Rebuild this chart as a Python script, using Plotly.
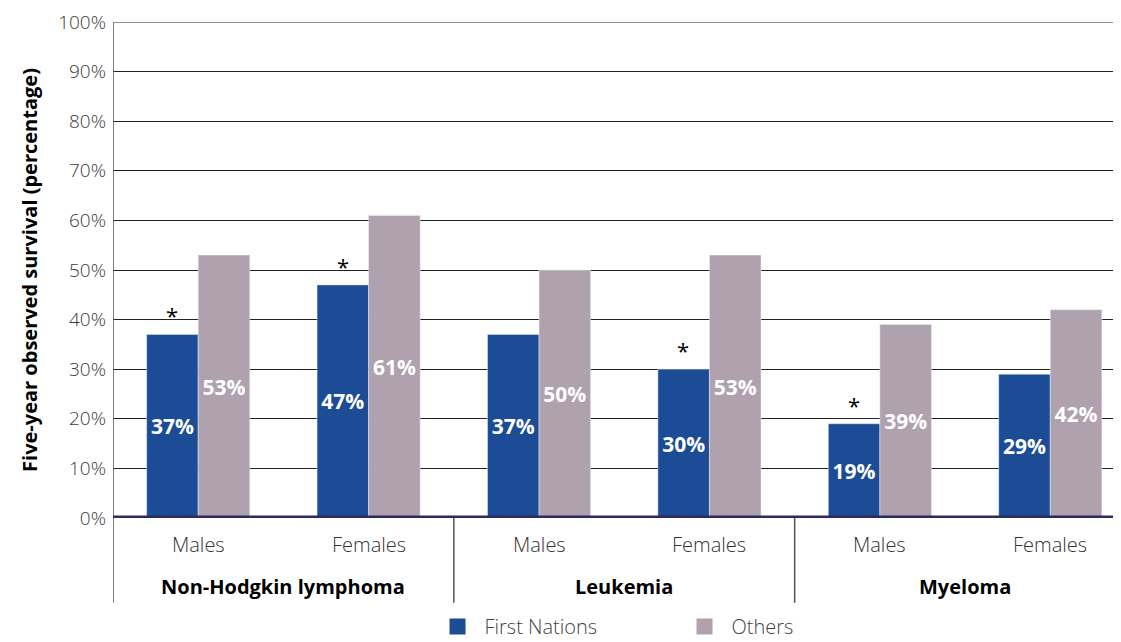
import plotly.graph_objects as go

# data
sexes = ["Males", "Females", "Males", "Females", "Males", "Females"]
cancers = ["Non-Hodgkin lymphoma", "Leukemia", "Myeloma"]
first_nations = [37, 47, 37, 30, 19, 29]
others = [53, 61, 50, 53, 39, 42]
significant = [True, True, False, True, True, False]
y_ticks = [0, 10, 20, 30, 40, 50, 60, 70, 80, 90, 100]

BLUE = "#1c4c96"
GREY = "#afa1ae"
NAVY = "#2d2a5f"
FONT = "Open Sans"

xs = list(range(len(sexes)))

fig = go.Figure()
fig.add_trace(go.Bar(
    x=xs, y=first_nations, name="First Nations", marker_color=BLUE,
    showlegend=False,
    text=[f"{v}%" for v in first_nations], textposition="inside",
    insidetextanchor="middle", constraintext="none",
    textfont=dict(family=FONT, size=21, color="white", weight="bold"),
))
fig.add_trace(go.Bar(
    x=xs, y=others, name="Others", marker_color=GREY, showlegend=False,
    text=[f"{v}%" for v in others], textposition="inside",
    insidetextanchor="middle", constraintext="none",
    textfont=dict(family=FONT, size=21, color="white", weight="bold"),
))
# legend entries with bigger square swatches
for name, col in [("First Nations", BLUE), ("Others", GREY)]:
    fig.add_trace(go.Scatter(x=[None], y=[None], mode="markers", name=name,
                             marker=dict(symbol="square", size=20, color=col)))

# asterisks above significant First Nations bars
for i, (v, s) in enumerate(zip(first_nations, significant)):
    if s:
        fig.add_annotation(x=i, y=v, text="*", showarrow=False, xshift=-26,
                           yanchor="bottom", yshift=2,
                           font=dict(family=FONT, size=22, color="black"))

# sex labels + cancer group labels under the axis
for i, s in enumerate(sexes):
    fig.add_annotation(x=i, y=0, yref="y", text=s, showarrow=False, yshift=-26,
                       font=dict(family=FONT, size=20, color="#333", weight=300))
for g, c in enumerate(cancers):
    fig.add_annotation(x=2 * g + 0.5, y=0, yref="y", text=c, showarrow=False,
                       yshift=-68,
                       font=dict(family=FONT, size=20, color="black", weight="bold"))

# separators between groups and extended left axis
for xv in [-0.5, 1.5, 3.5]:
    fig.add_shape(type="line", xref="x", yref="paper", x0=xv, x1=xv,
                  y0=-0.171, y1=0 if xv > 0 else 1,
                  line=dict(color="#555", width=1.5))
# top gridline and thick baseline
fig.add_shape(type="line", xref="paper", yref="y", x0=0, x1=1, y0=100, y1=100,
              line=dict(color="#222", width=1.2), layer="below")
fig.add_shape(type="line", xref="paper", yref="y", x0=0, x1=1, y0=0, y1=0,
              line=dict(color=NAVY, width=5))

# page body has an 8px margin, so the figure is sized to fit the window
fig.update_layout(
    width=1113, height=634,
    margin=dict(l=105, r=0, t=14, b=124, autoexpand=False),
    plot_bgcolor="white", paper_bgcolor="white",
    barmode="group", bargap=0.395, bargroupgap=0,
    font=dict(family=FONT, color="#333"),
    legend=dict(orientation="h", x=0.315, y=-0.219, xanchor="left",
                yanchor="middle", entrywidth=188, itemsizing="trace",
                itemwidth=44,
                font=dict(family=FONT, size=20, color="#444", weight=300)),
)
fig.update_xaxes(range=[-0.5, 5.415], showticklabels=False, showgrid=False,
                 zeroline=False, showline=False, automargin=False)
fig.update_yaxes(range=[0, 100], tickvals=y_ticks,
                 ticktext=[f"{t}%" for t in y_ticks], automargin=False,
                 showgrid=True, gridcolor="#222", gridwidth=1.2,
                 zeroline=False, showline=False, ticklen=0,
                 ticklabelstandoff=6,
                 tickfont=dict(family=FONT, size=19, color="#3a3a3a", weight=300),
                 title=dict(text="Five-year observed survival (percentage)",
                            standoff=15,
                            font=dict(family=FONT, size=20, color="black",
                                      weight="bold")))

fig.write_html("out.html")
